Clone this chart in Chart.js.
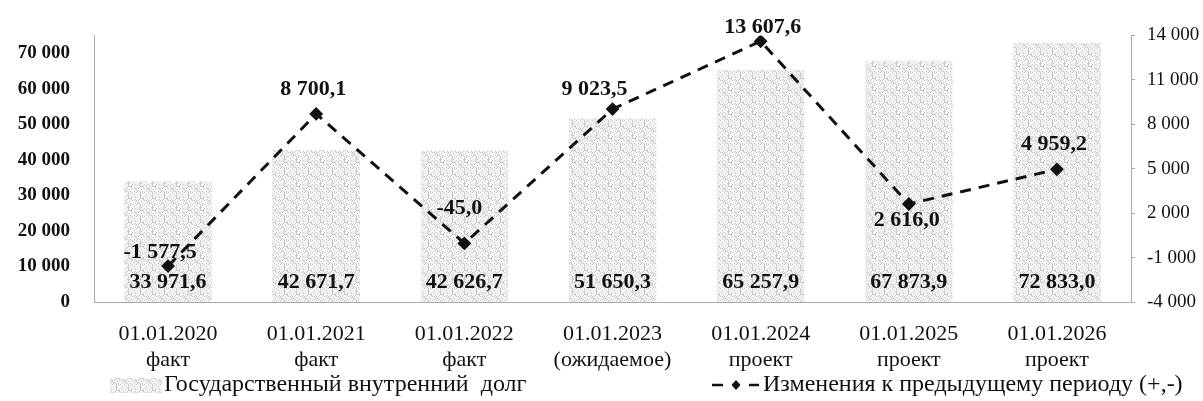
<!DOCTYPE html>
<html>
<head>
<meta charset="utf-8">
<script src="https://cdn.jsdelivr.net/npm/chart.js@4.4.0/dist/chart.umd.min.js"></script>
<style>
  body { margin: 0; background: #fff; }
  canvas { display: block; }
</style>
</head>
<body>
<canvas id="chart" width="1203" height="401"></canvas>
<script>
// data
const dates = ["01.01.2020", "01.01.2021", "01.01.2022", "01.01.2023", "01.01.2024", "01.01.2025", "01.01.2026"];
const status = ["факт", "факт", "факт", "(ожидаемое)", "проект", "проект", "проект"];
const debt = [33971.6, 42671.7, 42626.7, 51650.3, 65257.9, 67873.9, 72833.0];
const change = [-1577.5, 8700.1, -45.0, 9023.5, 13607.6, 2616.0, 4959.2];
const leftTicks = [0, 10000, 20000, 30000, 40000, 50000, 60000, 70000];
const debtLabel = "Государственный внутренний  долг";
const changeLabel = "Изменения к предыдущему периоду (+,-)";

const FONT = "'Liberation Serif', 'Times New Roman', serif";

// label nudges for the line values (dx, dy from the point)
const changeOffsets = [[-8, -14], [-3, -25], [-5, -35], [-18, -20], [2, -14], [-2, 16], [-3, -25]];

// number format like "33 971,6"
function fmt(v, dec) {
  const neg = v < 0;
  let s = Math.abs(v).toFixed(dec);
  let [i, d] = s.split(".");
  i = i.replace(/\B(?=(\d{3})+(?!\d))/g, " ");
  return (neg ? "-" : "") + i + (d !== undefined ? "," + d : "");
}

// stippled grey fill for bars
function makePattern() {
  const c = document.createElement("canvas");
  c.width = 12; c.height = 12;
  const g = c.getContext("2d");
  g.fillStyle = "#f3f3f3";
  g.fillRect(0, 0, 12, 12);
  g.fillStyle = "#cdcdcd";
  for (let y = 0; y < 12; y++) {
    for (let x = 0; x < 12; x++) {
      if ((x * 5 + y * 3 + (x * y) % 7) % 4 === 0) g.fillRect(x, y, 1, 1);
    }
  }
  return g.createPattern(c, "repeat");
}
const ctx = document.getElementById("chart").getContext("2d");
const barFill = makePattern();

const labelsPlugin = {
  id: "labels",
  afterDatasetsDraw(chart) {
    const c = chart.ctx;
    const y0 = chart.scales.y.getPixelForValue(0);
    c.save();
    c.fillStyle = "#111";
    c.font = "bold 22px " + FONT;
    c.textAlign = "center";
    c.textBaseline = "middle";
    chart.getDatasetMeta(1).data.forEach((bar, i) => {
      c.fillText(fmt(debt[i], 1), bar.x, y0 - 20);
    });
    chart.getDatasetMeta(0).data.forEach((pt, i) => {
      const o = changeOffsets[i];
      c.fillText(fmt(change[i], 1), pt.x + o[0], pt.y + o[1]);
    });
    c.restore();
  },
  afterDraw(chart) {
    const c = chart.ctx;
    c.save();
    // legend: bars
    c.fillStyle = barFill;
    c.fillRect(110, 378, 52, 15);
    c.fillStyle = "#111";
    c.font = "24px " + FONT;
    c.textBaseline = "middle";
    c.textAlign = "left";
    c.fillText(debtLabel, 164, 385);
    // legend: line
    c.strokeStyle = "#111";
    c.lineWidth = 2.5;
    c.beginPath();
    c.moveTo(712, 385); c.lineTo(723, 385);
    c.moveTo(749, 385); c.lineTo(759, 385);
    c.stroke();
    c.beginPath();
    c.moveTo(736, 380); c.lineTo(740.5, 385); c.lineTo(736, 390); c.lineTo(731.5, 385);
    c.closePath();
    c.fill();
    c.fillText(changeLabel, 763, 385);
    c.restore();
  }
};

new Chart(ctx, {
  data: {
    labels: dates.map((d, i) => [d, status[i]]),
    datasets: [
      {
        type: "line",
        label: changeLabel,
        data: change,
        yAxisID: "y1",
        borderColor: "#111",
        borderWidth: 3,
        borderDash: [11, 8],
        pointStyle: "rectRot",
        pointRadius: 4.8,
        pointBackgroundColor: "#111",
        pointBorderColor: "#111",
        tension: 0,
        order: 0
      },
      {
        type: "bar",
        label: debtLabel,
        data: debt,
        yAxisID: "y",
        backgroundColor: barFill,
        borderWidth: 0,
        categoryPercentage: 1,
        barPercentage: 0.59,
        order: 1
      }
    ]
  },
  options: {
    responsive: false,
    animation: false,
    layout: { padding: { top: 27, left: 0, right: 0, bottom: 0 } },
    plugins: {
      legend: { display: false },
      tooltip: { enabled: false }
    },
    scales: {
      x: {
        grid: { display: false, drawTicks: false },
        border: { display: true, color: "#aaa", dash: [1, 2], width: 1 },
        ticks: {
          color: "#111",
          font: { family: FONT, size: 22 },
          padding: 19,
          maxRotation: 0,
          autoSkip: false
        },
        afterFit(s) { s.height = 99; }
      },
      y: {
        position: "left",
        min: 0,
        max: 75000,
        grid: { display: false, drawTicks: false },
        border: { display: true, color: "#aaa", dash: [1, 2], width: 1 },
        afterBuildTicks(s) { s.ticks = leftTicks.map(v => ({ value: v })); },
        ticks: {
          color: "#111",
          font: { family: FONT, size: 19, weight: "bold" },
          padding: 24,
          callback: v => fmt(v, 0)
        },
        afterFit(s) { s.width = 94; }
      },
      y1: {
        position: "right",
        min: -4000,
        max: 14000,
        grid: { drawOnChartArea: false, drawTicks: true, tickLength: 4, color: "#aaa" },
        border: { display: true, color: "#aaa", dash: [1, 2], width: 1 },
        ticks: {
          stepSize: 3000,
          color: "#111",
          font: { family: FONT, size: 19 },
          padding: 12,
          callback: v => fmt(v, 0)
        },
        afterFit(s) { s.width = 72; }
      }
    }
  },
  plugins: [labelsPlugin]
});
</script>
</body>
</html>
